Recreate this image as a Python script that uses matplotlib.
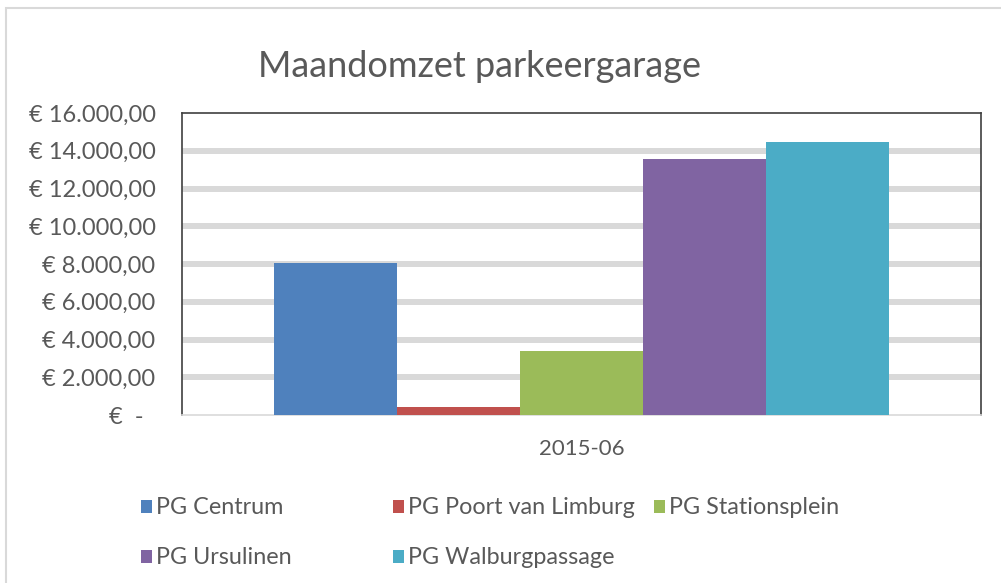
import matplotlib
matplotlib.use("Agg")
import matplotlib.pyplot as plt
from matplotlib.patches import Rectangle
from matplotlib.ticker import FuncFormatter

plt.rcParams['font.family'] = ['Lato', 'DejaVu Sans']

title = "Maandomzet parkeergarage"
category = ["2015-06"]
series = ["PG Centrum", "PG Poort van Limburg", "PG Stationsplein",
          "PG Ursulinen", "PG Walburgpassage"]
values = [8050, 400, 3400, 13550, 14450]
colors = ["#4f81bd", "#c0504d", "#9bbb59", "#8064a2", "#4bacc6"]
yticks = [0, 2000, 4000, 6000, 8000, 10000, 12000, 14000, 16000]

TXT = "#595959"

W, H = 1001, 583
fig = plt.figure(figsize=(W / 100, H / 100), dpi=100)
fig.patch.set_facecolor("white")

ax = fig.add_axes([182 / W, 1 - 415 / H, 799 / W, 302 / H])

bw = 123 / 799
handles = []
for i, (s, v, c) in enumerate(zip(series, values, colors)):
    b = ax.bar(0 + (i - 2) * bw, v, width=bw, color=c, zorder=3, label=s)
    handles.append(b)

ax.set_xlim(-0.5, 0.5)
ax.set_ylim(0, 16000)
ax.set_yticks(yticks)


def fmt(v, pos):
    if v == 0:
        return "€  -  "
    s = f"{v:,.2f}".replace(",", "X").replace(".", ",").replace("X", ".")
    return "€ " + s


ax.yaxis.set_major_formatter(FuncFormatter(fmt))
ax.set_xticks([0])
ax.set_xticklabels(category)
ax.tick_params(axis="y", length=0, pad=19, labelsize=17.0, labelcolor=TXT)
ax.tick_params(axis="x", length=0, pad=17, labelsize=16, labelcolor=TXT)

for y in yticks[1:-1]:
    ax.axhline(y, color="#d9d9d9", lw=4.3, zorder=1)

for side in ["top", "left", "right"]:
    ax.spines[side].set_color("#404040")
    ax.spines[side].set_linewidth(1.2)
ax.spines["bottom"].set_color("#d9d9d9")
ax.spines["bottom"].set_linewidth(1.2)

fig.text(479.5 / W, 1 - 77 / H, title, ha="center", va="baseline",
         fontsize=26, color=TXT)

# legend entries
pos = [(141, 508), (393, 508), (654, 508), (141, 558), (393, 558)]
for h, s, (px, py) in zip(handles, series, pos):
    fig.legend([h], [s], loc="center left", bbox_to_anchor=(px / W, 1 - py / H),
               bbox_transform=fig.transFigure, frameon=False, borderpad=0,
               borderaxespad=0, handlelength=0.47, handleheight=0.47,
               handletextpad=0.18, fontsize=16.8, labelcolor=TXT)

# outer chart border
fig.add_artist(Rectangle((6 / W, -0.1), 1.2, (1 - 8 / H) + 0.1,
                         transform=fig.transFigure, fill=False,
                         edgecolor="#d9d9d9", lw=1.5))

fig.savefig("out.png", dpi=100, facecolor="white")
